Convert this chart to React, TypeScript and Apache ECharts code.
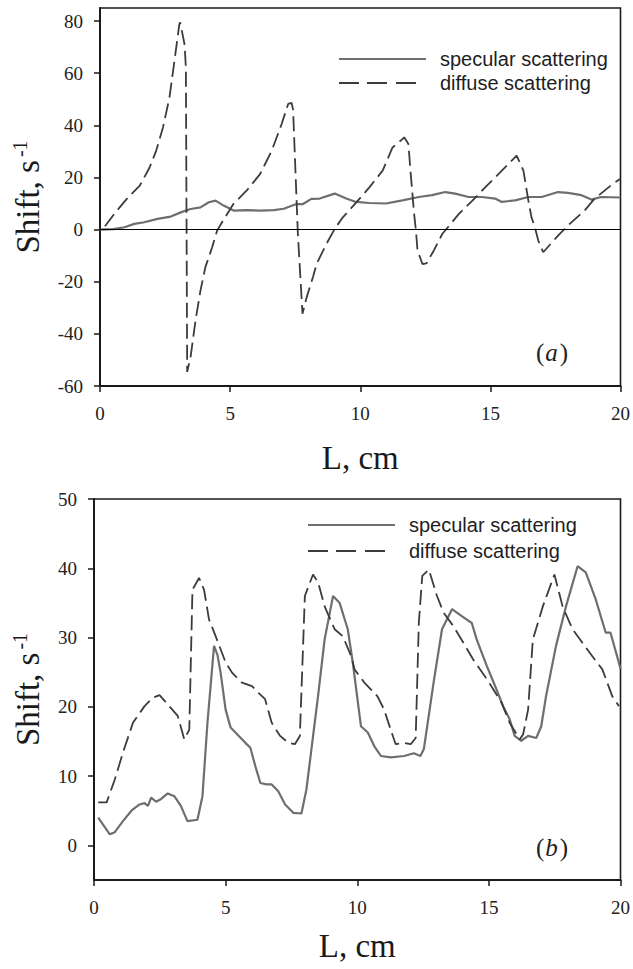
import React, { useEffect, useRef } from "react";
import * as echarts from "echarts";

// ---------- data ----------
const legendNames = ["specular scattering", "diffuse scattering"];
const xTicks = [0, 5, 10, 15, 20];
const yTicksA = [-60, -40, -20, 0, 20, 40, 60, 80];
const yTicksB = [0, 10, 20, 30, 40, 50];

// panel (a)
const specularA: [number, number][] = [
  [0, 0], [0.5, 0.2], [0.94, 0.9], [1.32, 2.2], [1.7, 2.8], [2.21, 4.1], [2.72, 5.0],
  [3.1, 6.6], [3.48, 7.9], [3.86, 8.5], [4.18, 10.5], [4.44, 11.1], [4.75, 9.2],
  [5.13, 7.3], [5.64, 7.5], [6.15, 7.3], [6.68, 7.5], [7.06, 8.0], [7.55, 9.8],
  [7.8, 9.8], [8.12, 11.8], [8.44, 11.9], [9.02, 13.8], [9.46, 11.9], [9.84, 10.6],
  [10.35, 10.2], [10.99, 10.0], [11.62, 11.2], [12.25, 12.5], [12.76, 13.2],
  [13.27, 14.4], [13.65, 13.8], [14.16, 12.5], [14.67, 12.5], [15.18, 11.9],
  [15.44, 10.6], [15.95, 11.2], [16.46, 12.5], [16.97, 12.5], [17.6, 14.4],
  [17.98, 14.1], [18.5, 13.2], [18.88, 11.5], [19.26, 12.5], [20, 12.3],
];
const diffuseA: [number, number][] = [
  [0.19, 1.3], [0.57, 6.3], [1.08, 12.4], [1.53, 16.9], [1.91, 23.9], [2.16, 30.3],
  [2.42, 39.2], [2.67, 50.7], [2.86, 64.7], [3.05, 78.8], [3.08, 79.5], [3.25, 71],
  [3.3, 62], [3.35, -54.6], [3.48, -48.9], [3.67, -34.9], [3.86, -23.4], [4.05, -14.4],
  [4.31, -6.8], [4.5, -0.4], [4.69, 2.8], [5.13, 9.9], [5.64, 15], [6.15, 21.3],
  [6.6, 30.3], [6.98, 40.5], [7.23, 48.2], [7.36, 48.6], [7.42, 46], [7.6, -1],
  [7.78, -32.3], [7.94, -26], [8.19, -18], [8.32, -13.2], [8.7, -5.5], [9.02, 0.3],
  [9.33, 4.7], [9.9, 11], [10.35, 16.2], [10.86, 22.6], [11.24, 31.5], [11.62, 34.7],
  [11.69, 35.4], [11.85, 32.8], [11.94, 21.3], [12.07, 6], [12.14, -0.4], [12.2, -8],
  [12.39, -13.2], [12.54, -13], [12.83, -8], [13.15, -1.7], [13.79, 6], [14.3, 11],
  [14.8, 16.2], [15.44, 22.6], [16.01, 28.4], [16.27, 22.6], [16.46, 11.1],
  [16.58, 4.7], [16.71, 0.9], [16.84, -4.2], [17.03, -8.7], [17.6, -2.3], [18.05, 2.2],
  [18.62, 7.3], [19.0, 11.8], [19.7, 17.5], [20, 19.5],
];

// panel (b)
const specularB: [number, number][] = [
  [0.16, 4.0], [0.6, 1.6], [0.79, 1.9], [1.1, 3.5], [1.42, 5.0], [1.73, 5.9],
  [1.92, 6.1], [2.05, 5.7], [2.17, 6.9], [2.36, 6.3], [2.55, 6.7], [2.8, 7.5],
  [3.05, 7.1], [3.3, 5.7], [3.55, 3.5], [3.93, 3.7], [4.12, 7.1], [4.31, 17.7],
  [4.56, 28.8], [4.69, 27.5], [4.81, 24.9], [5.0, 19.6], [5.19, 17], [5.5, 15.8],
  [5.75, 14.8], [5.94, 14.1], [6.13, 11.4], [6.32, 9], [6.55, 8.8], [6.75, 8.8],
  [7.0, 7.8], [7.26, 5.9], [7.57, 4.7], [7.88, 4.6], [8.07, 8.1], [8.26, 13.9],
  [8.51, 21.5], [8.76, 29.7], [9.08, 36], [9.33, 35], [9.64, 31.2], [9.83, 26.4],
  [10.14, 17.2], [10.4, 16.3], [10.65, 14.3], [10.9, 12.9], [11.27, 12.7],
  [11.78, 12.9], [12.15, 13.3], [12.4, 12.9], [12.53, 13.9], [12.9, 23.5],
  [13.22, 31.2], [13.6, 34.1], [13.97, 33.1], [14.35, 32.1], [14.54, 29.7],
  [14.92, 25.9], [15.29, 22.5], [15.54, 20.1], [15.79, 18.2], [15.98, 15.8],
  [16.23, 15.1], [16.49, 15.8], [16.8, 15.5], [16.99, 17.2], [17.17, 21.5],
  [17.55, 28.8], [17.93, 34.5], [18.37, 40.3], [18.68, 39.4], [19.06, 35.5],
  [19.44, 30.7], [19.62, 30.7], [19.87, 27.3], [20, 25.5],
];
const diffuseB: [number, number][] = [
  [0.16, 6.2], [0.48, 6.2], [0.79, 9.5], [1.1, 13.4], [1.48, 17.7], [1.92, 20.1],
  [2.23, 21.3], [2.49, 21.7], [2.86, 20.1], [3.18, 18.7], [3.43, 15.3], [3.62, 16.7],
  [3.74, 36.9], [3.99, 38.6], [4.18, 36.9], [4.37, 32.6], [4.62, 30.2], [5.0, 26.4],
  [5.25, 24.9], [5.62, 23.5], [6.0, 23.0], [6.25, 22], [6.5, 21.1], [6.75, 17.7],
  [7.07, 15.8], [7.38, 14.8], [7.63, 14.6], [7.82, 15.8], [8.01, 36], [8.32, 39.1],
  [8.51, 38], [8.76, 34.5], [9.14, 31.2], [9.45, 30.2], [9.77, 27.3], [9.9, 25.4],
  [10.27, 23.5], [10.77, 21.5], [11.02, 19.6], [11.27, 16.7], [11.46, 14.6],
  [11.78, 14.8], [12.03, 14.6], [12.22, 15.5], [12.34, 32.2], [12.47, 38.9],
  [12.72, 39.8], [13.03, 36], [13.28, 33.6], [13.66, 31.6], [14.04, 29.2],
  [14.41, 26.8], [14.92, 24], [15.17, 22.5], [15.48, 20.6], [15.79, 17.7],
  [16.17, 15.3], [16.3, 16.0], [16.49, 19.6], [16.67, 29.7], [17.05, 34.5],
  [17.49, 39.1], [17.8, 34.5], [18.18, 31.2], [18.56, 29.2], [18.93, 27.3],
  [19.31, 25.4], [19.69, 21.5], [19.94, 20.1],
];

// ---------- styles ----------
const SERIF = "'Liberation Serif', 'DejaVu Serif', serif";
const SANS = "'Liberation Sans', Arial, sans-serif";
const SPEC_COLOR = "#6e6e6e";
const DIFF_COLOR = "#3c3c3c";
const AXIS_COLOR = "#1a1a1a";

function xAxisFor(gridIndex: number, nameGap: number) {
  return {
    type: "value",
    gridIndex,
    min: 0,
    max: 20,
    interval: 5,
    name: "L, cm",
    nameLocation: "middle",
    nameGap,
    nameTextStyle: { fontFamily: SERIF, fontSize: 33, color: "#1a1a1a" },
    axisLine: { show: true, onZero: false, lineStyle: { color: AXIS_COLOR, width: 2 } },
    axisTick: { show: true, inside: false, length: 6, lineStyle: { color: AXIS_COLOR, width: 1.5 } },
    axisLabel: {
      fontFamily: SERIF,
      fontSize: 19,
      color: "#222",
      margin: 18,
      customValues: xTicks,
    },
    splitLine: { show: false },
  };
}

function yAxisFor(gridIndex: number, min: number, max: number, ticks: number[], nameGap: number) {
  return {
    type: "value",
    gridIndex,
    min,
    max,
    name: "{m|Shift, s}{s|-1}",
    nameLocation: "middle",
    nameGap,
    nameRotate: 90,
    nameTextStyle: {
      fontFamily: SERIF,
      fontSize: 33,
      color: "#1a1a1a",
      rich: {
        m: { fontFamily: SERIF, fontSize: 33, color: "#1a1a1a", lineHeight: 37 },
        s: { fontFamily: SERIF, fontSize: 20, color: "#1a1a1a", verticalAlign: "top", padding: [0, 0, 0, 3] },
      },
    },
    axisLine: { show: true, onZero: false, lineStyle: { color: AXIS_COLOR, width: 2 } },
    axisTick: {
      show: true,
      inside: false,
      length: 6,
      customValues: ticks,
      lineStyle: { color: AXIS_COLOR, width: 1.5 },
    },
    axisLabel: {
      fontFamily: SERIF,
      fontSize: 19,
      color: "#222",
      margin: 17,
      customValues: ticks,
    },
    splitLine: { show: false },
  };
}

function legendFor(top: number, left: number, gap: number) {
  return {
    orient: "vertical",
    left,
    top,
    itemWidth: 87,
    itemHeight: 20,
    itemGap: gap,
    selectedMode: false,
    itemStyle: { color: "transparent", borderColor: "transparent", borderWidth: 0, opacity: 0 },
    textStyle: { fontFamily: SANS, fontSize: 20, color: "#1e1e1e", padding: [0, 0, 0, 9] },
    data: [
      { name: legendNames[0] },
      { name: legendNames[1], lineStyle: { type: [20, 8, 20, 9, 20, 20] } },
    ],
  };
}

function lineSeries(name: string, data: [number, number][], idx: number, dashed: boolean) {
  return {
    name,
    type: "line",
    xAxisIndex: idx,
    yAxisIndex: idx,
    data,
    symbol: "none",
    showSymbol: false,
    smooth: false,
    silent: true,
    lineStyle: dashed
      ? { color: DIFF_COLOR, width: 1.8, type: [15, 6] }
      : { color: SPEC_COLOR, width: 2.2, type: "solid" },
    itemStyle: { color: dashed ? DIFF_COLOR : SPEC_COLOR },
  };
}

export default function App() {
  const ref = useRef<HTMLDivElement>(null);

  useEffect(() => {
    if (!ref.current) return;
    const chart = echarts.init(ref.current, undefined, { renderer: "svg" });

    const specA: any = lineSeries(legendNames[0], specularA, 0, false);
    specA.markLine = {
      silent: true,
      symbol: ["none", "none"],
      label: { show: false },
      lineStyle: { color: "#000", width: 1.2, type: "solid" },
      data: [{ yAxis: 0 }],
    };

    const panelLabel = (letter: string, y: number) => ({
      type: "text",
      x: 552,
      y,
      silent: true,
      style: {
        text: `{p|(}{i|${letter}}{p|)}`,
        align: "center",
        verticalAlign: "middle",
        rich: {
          p: { fontFamily: SERIF, fontSize: 25, fill: "#222" },
          i: { fontFamily: SERIF, fontSize: 25, fontStyle: "italic", fill: "#222", padding: [0, 2, 0, 1] },
        },
      },
    });

    chart.setOption({
      animation: false,
      backgroundColor: "#ffffff",
      grid: [
        { left: 100, right: 9, top: 8, height: 378, show: true, borderColor: "#1a1a1a", borderWidth: 1.6, backgroundColor: "transparent" },
        { left: 94, right: 8, top: 499, height: 381, show: true, borderColor: "#1a1a1a", borderWidth: 1.6, backgroundColor: "transparent" },
      ],
      xAxis: [xAxisFor(0, 55.5), xAxisFor(1, 49.5)],
      yAxis: [yAxisFor(0, -60, 85, yTicksA, 53.5), yAxisFor(1, -5, 50, yTicksB, 47.5)],
      legend: [legendFor(44, 333, 4), legendFor(510, 302, 6)],
      series: [
        specA,
        lineSeries(legendNames[1], diffuseA, 0, true),
        lineSeries(legendNames[0], specularB, 1, false),
        lineSeries(legendNames[1], diffuseB, 1, true),
      ],
      graphic: [panelLabel("a", 352), panelLabel("b", 847)],
    });

    return () => chart.dispose();
  }, []);

  return (
    <div
      ref={ref}
      style={{ position: "fixed", left: 0, top: 0, width: 633, height: 969, background: "#fff" }}
    />
  );
}
